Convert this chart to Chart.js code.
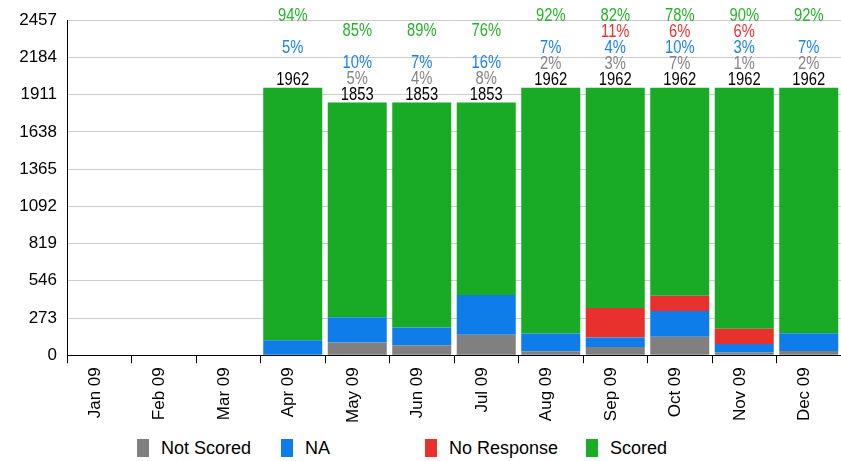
<!DOCTYPE html>
<html>
<head>
<meta charset="utf-8">
<script src="https://cdn.jsdelivr.net/npm/chart.js@4/dist/chart.umd.min.js"></script>
<style>
  body { margin: 0; background: #fff; font-family: "Liberation Sans", Arial, sans-serif; }
  #wrap { position: absolute; left: 0; top: 0; width: 841px; height: 430px; }
  #legend { position: absolute; left: 137px; top: 439px; display: flex; font-size: 18px; color: #000; }
  .item { display: flex; align-items: center; min-width: 144px; padding-right: 28px; box-sizing: border-box; height: 18px; }
  .box { width: 12px; height: 18px; margin-right: 12px; flex: none; }
</style>
</head>
<body>
<div id="wrap"><canvas id="chart"></canvas></div>
<div id="legend"></div>
<script>
// months on the x axis
let months = ['Jan 09', 'Feb 09', 'Mar 09', 'Apr 09', 'May 09', 'Jun 09', 'Jul 09', 'Aug 09', 'Sep 09', 'Oct 09', 'Nov 09', 'Dec 09'];

// stacked values, bottom to top
let notScored  = [0, 0, 0,    4,   93,   74,  150,   30,   60,  135,   20,   32];
let na         = [0, 0, 0,  106,  185,  130,  292,  130,   70,  190,   62,  130];
let noResponse = [0, 0, 0,    0,    0,    0,    0,    0,  216,  112,  112,    0];
let scored     = [0, 0, 0, 1852, 1575, 1649, 1411, 1802, 1616, 1525, 1768, 1800];

let yTicks = [0, 273, 546, 819, 1092, 1365, 1638, 1911, 2184, 2457];

let series = [
    { label: 'Not Scored', data: notScored, bar: '#808080', text: '#858585' },
    { label: 'NA', data: na, bar: '#0e7de9', text: '#1b82ee' },
    { label: 'No Response', data: noResponse, bar: '#e8302c', text: '#e83232' },
    { label: 'Scored', data: scored, bar: '#19ab26', text: '#25b22a' }
];

let FONT = '"Liberation Sans", Arial, sans-serif';

// totals and percentage labels above each bar (squeezed to look like a narrow face)
let topLabels = {
    id: 'topLabels',
    afterDatasetsDraw(chart) {
        let ctx = chart.ctx;
        let xs = chart.scales.x, ys = chart.scales.y;
        let put = (txt, x, y, color) => {
            ctx.save();
            ctx.translate(x, y);
            ctx.scale(0.82, 1);
            ctx.fillStyle = color;
            ctx.fillText(txt, 0, 0);
            ctx.restore();
        };
        ctx.save();
        ctx.font = '18px ' + FONT;
        ctx.textAlign = 'center';
        ctx.textBaseline = 'middle';
        months.forEach((m, i) => {
            let total = series.reduce((s, d) => s + d.data[i], 0);
            if (!total) return;
            let x = xs.getPixelForValue(i);
            let top = ys.getPixelForValue(total);
            put(String(total), x, top - 8, '#000');
            series.forEach((s, k) => {
                let pct = Math.round(s.data[i] / total * 100);
                if (pct <= 0) return;
                put(pct + '%', x, top - 8 - 15.8 * (k + 1), s.text);
            });
        });
        ctx.restore();
    }
};

new Chart(document.getElementById('chart'), {
    type: 'bar',
    data: {
        labels: months,
        datasets: series.map(s => ({
            label: s.label,
            data: s.data,
            backgroundColor: s.bar,
            borderWidth: 0,
            barPercentage: 0.915,
            categoryPercentage: 1
        }))
    },
    options: {
        responsive: true,
        maintainAspectRatio: false,
        animation: false,
        layout: { padding: { top: 6, left: 0, right: 0, bottom: 3 } },
        plugins: { legend: { display: false }, tooltip: { enabled: false } },
        scales: {
            x: {
                stacked: true,
                grid: { offset: true, drawOnChartArea: false, color: '#000', tickLength: 8 },
                border: { color: '#000' },
                ticks: { color: '#000', font: { size: 17, family: FONT }, minRotation: 90, maxRotation: 90, padding: 4, labelOffset: -4 }
            },
            y: {
                stacked: true,
                min: 0,
                max: 2457,
                afterBuildTicks: axis => { axis.ticks = yTicks.map(v => ({ value: v })); },
                afterFit: axis => { axis.width = 67; },
                grid: { color: '#cccccc', drawTicks: false },
                border: { color: '#000' },
                ticks: { color: '#000', font: { size: 17, family: FONT }, padding: 10, callback: v => String(v) }
            }
        }
    },
    plugins: [topLabels]
});

// legend below the chart
let legend = document.getElementById('legend');
series.forEach(s => {
    let item = document.createElement('div');
    item.className = 'item';
    item.innerHTML = '<span class="box" style="background:' + s.bar + '"></span><span>' + s.label + '</span>';
    legend.appendChild(item);
});
</script>
</body>
</html>
